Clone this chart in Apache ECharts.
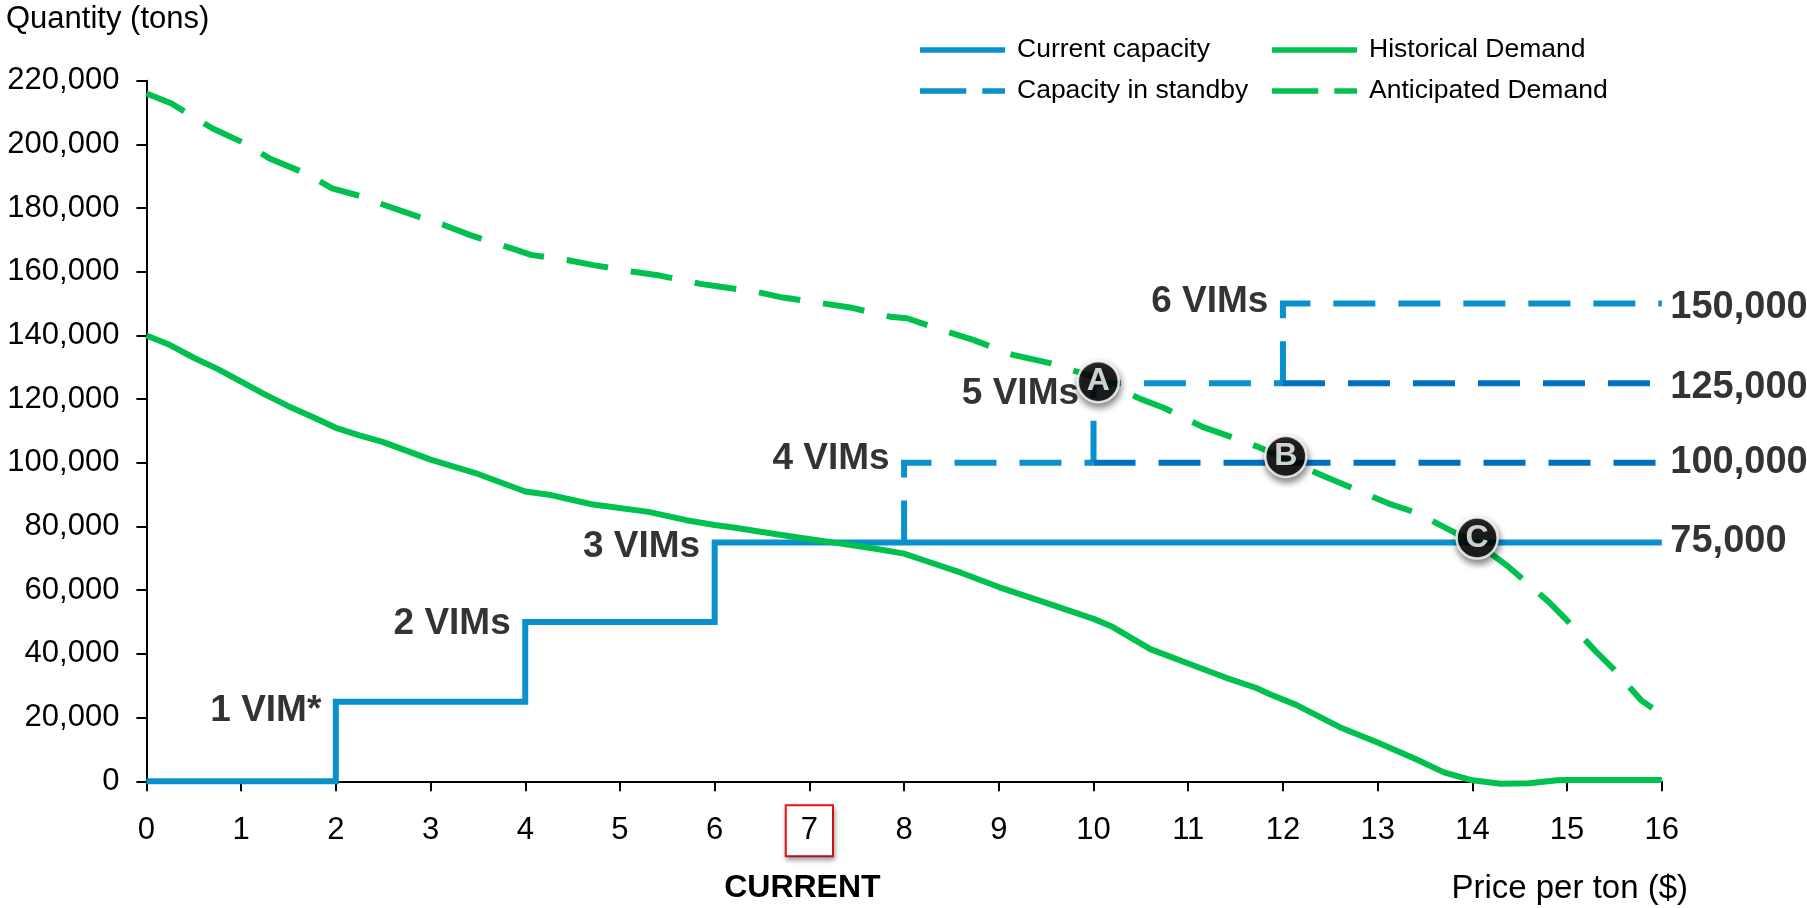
<!DOCTYPE html>
<html><head><meta charset="utf-8">
<script src="https://cdn.jsdelivr.net/npm/echarts@6/dist/echarts.min.js"></script>
<style>html,body{margin:0;padding:0;background:#fff}#c{width:1807px;height:908px}</style>
</head><body><div id="c"></div>
<script>
// ---------- data ----------
const historicalDemand = [
  [0,140000],[0.25,137000],[0.5,133000],[0.75,129500],[1,125500],[1.25,121500],[1.5,117800],
  [1.75,114500],[2,111000],[2.25,108600],[2.5,106500],[3,101000],[3.5,96500],[4,91000],
  [4.25,90000],[4.7,87000],[5.3,84600],[5.7,82000],[6,80500],[6.2,79700],[6.5,78300],
  [6.9,76500],[7.3,74800],[7.7,73000],[8,71500],[8.2,69500],[8.6,65500],[9,61000],
  [9.5,56000],[10,51000],[10.2,48500],[10.6,41500],[11,37000],[11.4,32500],[11.72,29300],
  [11.85,27500],[12.14,24000],[12.6,17000],[13,12200],[13.4,7000],[13.7,2800],[14,300],
  [14.3,-800],[14.6,-600],[14.9,300],[15,400],[16,400]
];
const anticipatedDemand = [
  [0,216000],[0.26,212900],[0.43,209800],[0.7,205000],[1.04,200300],[1.3,195600],[1.68,190900],
  [1.96,186200],[2.34,183100],[2.46,181500],[2.8,178000],[3.14,174700],[3.42,171500],[3.85,167400],
  [4.06,165300],[4.44,163700],[4.72,162100],[5.14,160000],[5.42,158800],[5.85,156200],[6.06,155300],
  [6.46,153600],[6.72,151900],[7.14,150100],[7.43,148800],[7.85,145900],[8.03,145400],[8.45,141200],
  [8.73,138600],[9.15,133900],[9.54,131300],[10,127000],[10.25,123500],[10.5,120000],[10.74,117300],
  [11.15,111300],[11.4,108700],[11.73,105100],[12,101500],[12.44,95700],[12.7,92500],[13.11,87300],
  [13.42,84200],[13.82,78000],[14.04,75000],[14.38,67400],[14.8,56500],[15,50500],[15.29,41200],
  [15.5,35000],[15.78,25500],[15.9,23000]
];
const capacityX   = [0, 2, 4, 6, 16];
const capacityQty = [0, 25000, 50000, 75000, 75000];
const standbyX    = [8, 10, 12];
const standbyBase = [75000, 100000, 125000];
const standbyQty  = [100000, 125000, 150000];
const vimLabels = ['1 VIM*','2 VIMs','3 VIMs','4 VIMs','5 VIMs','6 VIMs'];
const vimX      = [2, 4, 6, 8, 10, 12];
const vimQty    = [25000, 50000, 75000, 100000, 125000, 150000];
const endQty    = [75000, 100000, 125000, 150000];
const crossNames = ['A','B','C'];
const crossX     = [10.05, 12.03, 14.05];
const crossQty   = [125500, 102000, 76400];
const currentPrice = 7;
const xMax = 16;

// ---------- styles ----------
const FONT = "'Liberation Sans', Arial, sans-serif";
const GREEN = '#00c14d';
const BLUE = '#0a90cd';
const DARKBLUE = '#0070c0';
const DASH = [42, 23];
const LW = 6;
const vimLabelDy = [9, 2, 4, -4, 11, -2];      // label nudges (px)
const endLabelDy = [-1, 0, 4, 4];               // label nudges (px)
const ICON_SOLID = 'path://M0,0H90V6H0Z';
const ICON_DASH  = 'path://M0,0H49V6H0ZM66,0H90V6H66Z';

const capacityData = capacityX.map((x, i) => [x, capacityQty[i]]);
const series = [];

series.push({
  name: 'Historical Demand', type: 'line', data: historicalDemand, symbol: 'none', clip: false,
  lineStyle: { color: GREEN, width: LW }, itemStyle: { color: GREEN }, z: 3
});
series.push({
  name: 'Anticipated Demand', type: 'line', data: anticipatedDemand, symbol: 'none', clip: false,
  lineStyle: { color: GREEN, width: LW, type: DASH, cap: 'butt' }, itemStyle: { color: GREEN }, z: 3
});
series.push({
  name: 'Current capacity', type: 'line', data: capacityData, step: 'end', symbol: 'none', clip: false,
  lineStyle: { color: BLUE, width: LW, join: 'miter', cap: 'butt' }, itemStyle: { color: BLUE }, z: 2
});
standbyX.forEach((x, i) => {
  const endX = i + 1 < standbyX.length ? standbyX[i + 1] : xMax;
  series.push({
    name: 'Capacity in standby', type: 'line', symbol: 'none', clip: false,
    data: [[x, standbyBase[i]], [x, standbyQty[i]], [endX, standbyQty[i]]],
    lineStyle: { color: BLUE, width: LW, type: DASH, join: 'miter', cap: 'butt' }, itemStyle: { color: BLUE }, z: 2
  });
  if (i > 0) {
    series.push({
      name: 'standby-base', type: 'line', symbol: 'none', clip: false,
      data: [[x, standbyBase[i]], [xMax, standbyBase[i]]],
      lineStyle: { color: DARKBLUE, width: LW, type: DASH, cap: 'butt' }, itemStyle: { color: DARKBLUE }, z: 2
    });
  }
});
series.push({
  name: 'vim-labels', type: 'scatter', symbolSize: 1, itemStyle: { color: 'transparent' }, z: 5,
  data: vimLabels.map((t, i) => ({ name: t, value: [vimX[i], vimQty[i]], label: { offset: [0, vimLabelDy[i]] } })),
  label: { show: true, position: 'left', distance: 14, formatter: p => p.name,
           color: '#000', fontFamily: FONT, fontWeight: 'bold', fontSize: 37 },
  silent: true
});
series.push({
  name: 'end-labels', type: 'scatter', symbolSize: 1, itemStyle: { color: 'transparent' }, z: 5,
  data: endQty.map((v, i) => ({ value: [xMax, v], label: { offset: [0, endLabelDy[i]] } })),
  label: { show: true, position: 'right', distance: 8, formatter: p => p.value[1].toLocaleString('en-US'),
           color: '#000', fontFamily: FONT, fontWeight: 'bold', fontSize: 38 },
  silent: true
});
series.push({
  name: 'cross-markers', type: 'scatter', symbol: 'circle', symbolSize: 41, z: 10,
  data: crossNames.map((t, i) => ({ name: t, value: [crossX[i], crossQty[i]] })),
  itemStyle: { color: '#000', borderColor: '#fff', borderWidth: 2.5,
               shadowBlur: 7, shadowColor: 'rgba(0,0,0,0.6)', shadowOffsetX: 1, shadowOffsetY: 4 },
  label: { show: true, position: 'inside', formatter: p => p.name, color: '#fff',
           fontFamily: FONT, fontWeight: 'bold', fontSize: 32 },
  silent: true
});

const legendCommon = {
  orient: 'vertical', itemWidth: 85, itemHeight: 6, itemGap: 13,
  textStyle: { fontFamily: FONT, fontSize: 26.5, color: '#000', padding: [0, 0, 0, 7], lineHeight: 28 },
  selectedMode: false
};

const chart = echarts.init(document.getElementById('c'), null, { renderer: 'canvas' });
chart.setOption({
  animation: false,
  backgroundColor: '#fff',
  textStyle: { fontFamily: FONT },
  grid: { left: 146.4, right: 145.2, top: 80.7, bottom: 126.7, containLabel: false, outerBoundsMode: 'none' },
  legend: [
    Object.assign({}, legendCommon, { left: 915, top: 31,
      data: [{ name: 'Current capacity', icon: ICON_SOLID }, { name: 'Capacity in standby', icon: ICON_DASH }] }),
    Object.assign({}, legendCommon, { left: 1267, top: 31,
      data: [{ name: 'Historical Demand', icon: ICON_SOLID }, { name: 'Anticipated Demand', icon: ICON_DASH }] })
  ],
  xAxis: {
    type: 'value', min: 0, max: xMax, interval: 1,
    axisLine: { onZero: false, lineStyle: { color: '#000', width: 2 } },
    axisTick: { show: true, length: 10, lineStyle: { color: '#000', width: 2 } },
    splitLine: { show: false },
    axisLabel: {
      margin: 34, color: '#000', fontFamily: FONT, fontSize: 31,
      formatter: v => v === currentPrice ? '{box|' + v + '}\n{cur|CURRENT}' : '{n|' + v + '}',
      rich: {
        n: { fontSize: 31, lineHeight: 31, padding: [10, 0, 10, 0], color: '#000', fontFamily: FONT },
        box: { fontSize: 31, lineHeight: 31, padding: [9, 14, 9, 14], color: '#000', fontFamily: FONT,
               borderColor: '#e8141b', borderWidth: 2, backgroundColor: '#fff',
               shadowColor: 'rgba(0,0,0,0.35)', shadowBlur: 5, shadowOffsetX: 1, shadowOffsetY: 3 },
        cur: { fontSize: 32, lineHeight: 32, fontWeight: 'bold', padding: [52, 14, 0, 0], color: '#000', fontFamily: FONT }
      }
    }
  },
  yAxis: {
    type: 'value', min: 0, max: 220000, interval: 20000,
    axisLine: { show: true, lineStyle: { color: '#000', width: 2 } },
    axisTick: { show: true, length: 10, lineStyle: { color: '#000', width: 2 } },
    splitLine: { show: false },
    axisLabel: { margin: 27, color: '#000', fontFamily: FONT, fontSize: 31,
                 formatter: v => v.toLocaleString('en-US') }
  },
  graphic: [
    { type: 'text', left: 6, top: 4, style: { text: 'Quantity (tons)', font: '31px ' + FONT, fill: '#000' } },
    { type: 'text', right: 119, top: 872, style: { text: 'Price per ton ($)', font: '33px ' + FONT, fill: '#000' } }
  ],
  series: series
});
</script></body></html>
